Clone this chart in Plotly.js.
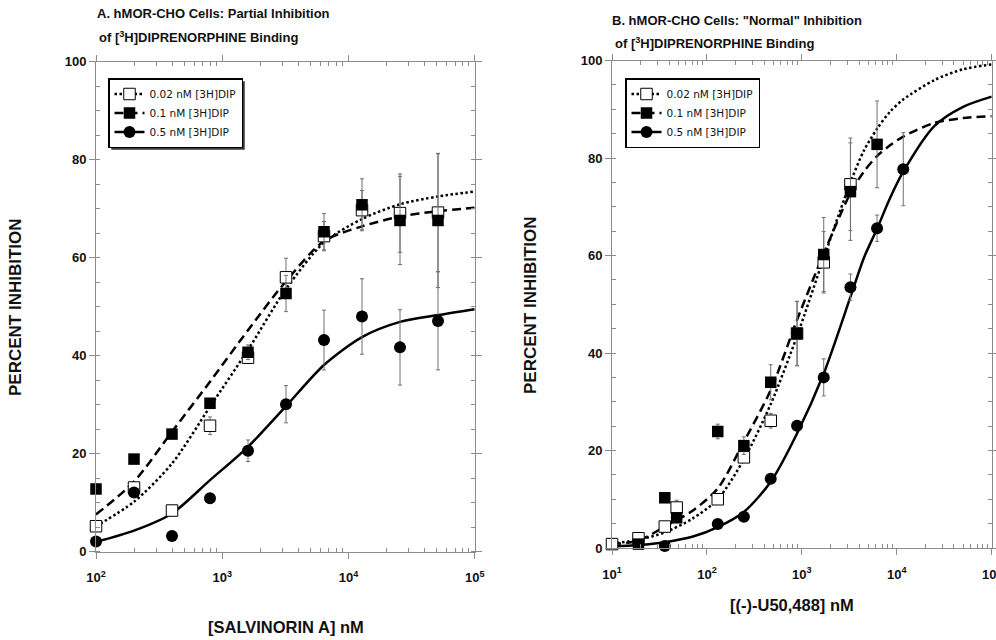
<!DOCTYPE html>
<html><head><meta charset="utf-8">
<script src="https://cdn.plot.ly/plotly-3.0.1.min.js"></script>
<style>html,body{margin:0;padding:0;background:#fff}#chart{width:996px;height:640px}</style>
</head><body><div id="chart"></div>
<script>
// ---------- Panel A: [SALVINORIN A] ----------
const concA = [100, 200, 400, 800, 1600, 3200, 6400, 12800, 25600, 51200];
const inhibA_002 = [5.2, 13.1, 8.4, 25.7, 39.6, 56.0, 64.4, 69.7, 69.1, 69.2];
const errA_002 = [0.8, 1.0, 1.0, 1.8, 1.2, 3.9, 3.0, 4.0, 8.0, 12.0];
const inhibA_01 = [12.8, 18.9, 24.0, 30.3, 40.7, 52.7, 65.3, 70.8, 67.6, 67.6];
const errA_01 = [0, 0, 0, 0.8, 1.5, 3.7, 3.7, 5.3, 9.0, 13.7];
const inhibA_05 = [2.1, 12.1, 3.2, 10.9, 20.6, 30.1, 43.2, 48.0, 41.7, 47.1];
const errA_05 = [0, 0, 0, 0, 2.2, 3.8, 6.1, 7.7, 7.7, 10.0];
const fitConcA = [100, 200, 400, 800, 1600, 3200, 6400, 12800, 25600, 51200, 100000];
const fitA_002 = [5.2, 10.2, 18.0, 29.6, 41.2, 53.6, 63.1, 67.9, 70.9, 72.5, 73.5];
const fitA_01 = [7.6, 14.3, 24.5, 34.7, 45.2, 55.2, 63.4, 66.4, 68.4, 69.5, 70.2];
const fitA_05 = [2.0, 4.3, 7.8, 14.6, 21.4, 29.7, 38.1, 43.8, 46.9, 48.3, 49.5];

// ---------- Panel B: [(-)-U50,488] ----------
const concB_002 = [10, 19, 36, 48, 130, 245, 470, 890, 1700, 3250];
const inhibB_002 = [0.8, 2.0, 4.4, 8.3, 10.0, 18.6, 26.1, 44.0, 58.6, 74.6];
const errB_002 = [0, 0.5, 0.5, 1.5, 0.5, 1.0, 1.5, 6.6, 6.3, 9.5];
const concB_01 = [19, 36, 48, 130, 245, 470, 890, 1700, 3250, 6200];
const inhibB_01 = [0.8, 10.3, 6.2, 23.9, 21.0, 34.0, 44.0, 60.2, 73.1, 82.8];
const errB_01 = [0, 0, 0, 1.5, 1.8, 3.6, 6.6, 7.6, 10.0, 8.9];
const concB_05 = [36, 130, 245, 470, 890, 1700, 3250, 6200, 11700];
const inhibB_05 = [0.4, 4.9, 6.4, 14.2, 25.1, 35.0, 53.5, 65.6, 77.7];
const errB_05 = [0, 0, 0, 0.8, 0, 3.8, 2.7, 2.7, 7.5];
const fitConcB = [10, 19, 36, 70, 130, 245, 470, 890, 1700, 3250, 4500, 6200, 8500, 11700, 25000, 50000, 100000];
const fitB_002 = [0.9, 1.7, 3.2, 6.0, 10.0, 18.2, 29.5, 43.5, 59.5, 75.0, 81.5, 86.0, 89.5, 92.0, 96.0, 98.2, 99.2];
const fitB_01 = [0.8, 1.5, 4.4, 7.6, 12.2, 21.8, 32.4, 46.8, 60.4, 72.8, 77.2, 80.4, 82.6, 84.4, 87.2, 88.2, 88.6];
const fitB_05 = [0.3, 0.6, 1.2, 2.3, 4.3, 7.4, 13.6, 23.5, 35.8, 51.5, 59.5, 65.5, 71.8, 77.2, 86.6, 90.5, 92.6];

// ---------- labels ----------
const seriesNames = ['0.02 nM [3H]DIP', '0.1 nM [3H]DIP', '0.5 nM [3H]DIP'];
const tickValsA = [100, 1000, 10000, 100000];
const tickTextA = ['10<sup>2</sup>', '10<sup>3</sup>', '10<sup>4</sup>', '10<sup>5</sup>'];
const tickValsB = [10, 100, 1000, 10000, 100000];
const tickTextB = ['10<sup>1</sup>', '10<sup>2</sup>', '10<sup>3</sup>', '10<sup>4</sup>', '10<sup>5</sup>'];
const yTickVals = [0, 20, 40, 60, 80, 100];

function minorLog(lo, hi) {
  const out = [];
  for (let d = lo; d < hi; d++) for (let m = 2; m <= 9; m++) out.push(m * Math.pow(10, d));
  return out;
}

const FONT = '"Liberation Sans", Arial, Helvetica, sans-serif';
const LFONT = '"DejaVu Sans", Verdana, sans-serif';
const W = 996, H = 640;
const px = x => x / W, py = y => 1 - y / H;

const styles = [
  {marker: {symbol: 'square', size: 11.5, color: 'white', line: {color: 'black', width: 1}}, line: {color: 'black', width: 2.5, dash: '2.5px,2.5px'}},
  {marker: {symbol: 'square', size: 11.5, color: 'black', line: {color: 'black', width: 0}}, line: {color: 'black', width: 2.5, dash: '9px,5px'}},
  {marker: {symbol: 'circle', size: 12, color: 'black', line: {color: 'black', width: 0}}, line: {color: 'black', width: 2.5}}
];
const errStyle = arr => ({type: 'data', array: arr, visible: true, color: '#707070', thickness: 1, width: 2});

const traces = [];
function addPanel(xa, ya, leg, fitX, fits, pts) {
  fits.forEach((f, i) => traces.push({
    x: fitX, y: f, xaxis: xa, yaxis: ya, mode: 'lines', showlegend: false, hoverinfo: 'skip',
    line: Object.assign({shape: 'spline', smoothing: 0.8}, styles[i].line)
  }));
  [0, 1, 2].forEach(i => traces.push({
    x: pts[i].x, y: pts[i].y, xaxis: xa, yaxis: ya, mode: 'markers', showlegend: false,
    cliponaxis: false, marker: styles[i].marker, error_y: errStyle(pts[i].e)
  }));
  [0, 1, 2].forEach(i => traces.push({
    x: [null], y: [null], xaxis: xa, yaxis: ya, mode: 'lines+markers', name: seriesNames[i],
    legend: leg, marker: styles[i].marker, line: styles[i].line
  }));
}
addPanel('x', 'y', 'legend', fitConcA, [fitA_002, fitA_01, fitA_05], [
  {x: concA, y: inhibA_002, e: errA_002},
  {x: concA, y: inhibA_01, e: errA_01},
  {x: concA, y: inhibA_05, e: errA_05}
]);
addPanel('x2', 'y2', 'legend2', fitConcB, [fitB_002, fitB_01, fitB_05], [
  {x: concB_002, y: inhibB_002, e: errB_002},
  {x: concB_01, y: inhibB_01, e: errB_01},
  {x: concB_05, y: inhibB_05, e: errB_05}
]);

const AX = '#8c8c8c';
const common = {
  showline: true, linecolor: AX, linewidth: 1, mirror: 'ticks', ticks: 'outside', ticklen: 6,
  tickcolor: AX, tickwidth: 1, showgrid: false, zeroline: false,
  tickfont: {family: FONT, size: 13, weight: 700, color: '#111'}
};
const xCommon = Object.assign({}, common, {type: 'log', tickmode: 'array', ticklabelstandoff: 8, ticklabeloverflow: 'allow'});
const yCommon = Object.assign({}, common, {range: [0, 100], tickmode: 'array', tickvals: yTickVals,
  minor: {dtick: 5, tick0: 0, ticks: 'inside', ticklen: 4, tickcolor: AX}});

const titleFont = {family: FONT, size: 13, weight: 700, color: '#111'};
const axTitleFont = {family: FONT, size: 16.5, weight: 700, color: '#111'};
const yTitleFont = {family: FONT, size: 17, weight: 700, color: '#111'};
const ann = (text, x, y, font, extra) => Object.assign({text, x: px(x), y: py(y), xref: 'paper', yref: 'paper',
  showarrow: false, font}, extra || {});
const legendBase = {xanchor: 'left', yanchor: 'top', bgcolor: 'white', bordercolor: 'black',
  borderwidth: 1.5, font: {family: LFONT, size: 10.5, color: '#111'}, tracegroupgap: 0, itemwidth: 30};

const layout = {
  width: W, height: H, margin: {l: 0, r: 0, t: 0, b: 0}, paper_bgcolor: 'white', plot_bgcolor: 'white',
  font: {family: FONT},
  xaxis: Object.assign({}, xCommon, {range: [2, 5], domain: [px(96), px(474.7)], anchor: 'y',
    tickvals: tickValsA, ticktext: tickTextA,
    minor: {tickmode: 'array', tickvals: minorLog(2, 5), ticks: 'inside', ticklen: 4, tickcolor: AX}}),
  yaxis: Object.assign({}, yCommon, {domain: [py(551.7), py(61.7)], anchor: 'x'}),
  xaxis2: Object.assign({}, xCommon, {range: [1, 5], domain: [px(612), px(991.7)], anchor: 'y2',
    tickvals: tickValsB, ticktext: tickTextB,
    minor: {tickmode: 'array', tickvals: minorLog(1, 5), ticks: 'inside', ticklen: 4, tickcolor: AX}}),
  yaxis2: Object.assign({}, yCommon, {domain: [py(548), py(60.5)], anchor: 'x2'}),
  legend: Object.assign({}, legendBase, {x: px(108), y: py(78)}),
  legend2: Object.assign({}, legendBase, {x: px(625), y: py(78)}),
  annotations: [
    ann('A. hMOR-CHO Cells: Partial Inhibition', 95, 14, titleFont, {xanchor: 'left', yanchor: 'middle'}),
    ann('of [<sup>3</sup>H]DIPRENORPHINE Binding', 97, 37, titleFont, {xanchor: 'left', yanchor: 'middle'}),
    ann('B. hMOR-CHO Cells: "Normal" Inhibition', 610, 20, titleFont, {xanchor: 'left', yanchor: 'middle'}),
    ann('of [<sup>3</sup>H]DIPRENORPHINE Binding', 613, 43, titleFont, {xanchor: 'left', yanchor: 'middle'}),
    ann('[SALVINORIN A] nM', 286, 627, axTitleFont, {xanchor: 'center', yanchor: 'middle'}),
    ann('[(-)-U50,488] nM', 792, 605, axTitleFont, {xanchor: 'center', yanchor: 'middle'}),
    ann('PERCENT INHIBITION', 15, 307, yTitleFont, {textangle: -90, xanchor: 'center', yanchor: 'middle'}),
    ann('PERCENT INHIBITION', 530, 305, yTitleFont, {textangle: -90, xanchor: 'center', yanchor: 'middle'})
  ]
};

Plotly.newPlot('chart', traces, layout, {displayModeBar: false, staticPlot: true}).then(gd => {
  // drop shadow behind each legend box, sized from the drawn legend
  const shapes = [];
  gd.querySelectorAll('g.legend').forEach(g => {
    const bg = g.querySelector('rect.bg');
    const m = /translate\(\s*([-\d.]+)[\s,]+([-\d.]+)\s*\)/.exec(g.getAttribute('transform') || '');
    if (!bg || !m) return;
    const x = +m[1] + (+bg.getAttribute('x') || 0), y = +m[2] + (+bg.getAttribute('y') || 0);
    const w = +bg.getAttribute('width'), h = +bg.getAttribute('height');
    shapes.push({type: 'rect', xref: 'paper', yref: 'paper', x0: px(x + 2.5), x1: px(x + w + 2.5),
      y0: py(y + h + 2.5), y1: py(y + 2.5), fillcolor: '#3a3a3a', line: {width: 0}, layer: 'above'});
  });
  return Plotly.relayout(gd, {shapes});
});
</script></body></html>
